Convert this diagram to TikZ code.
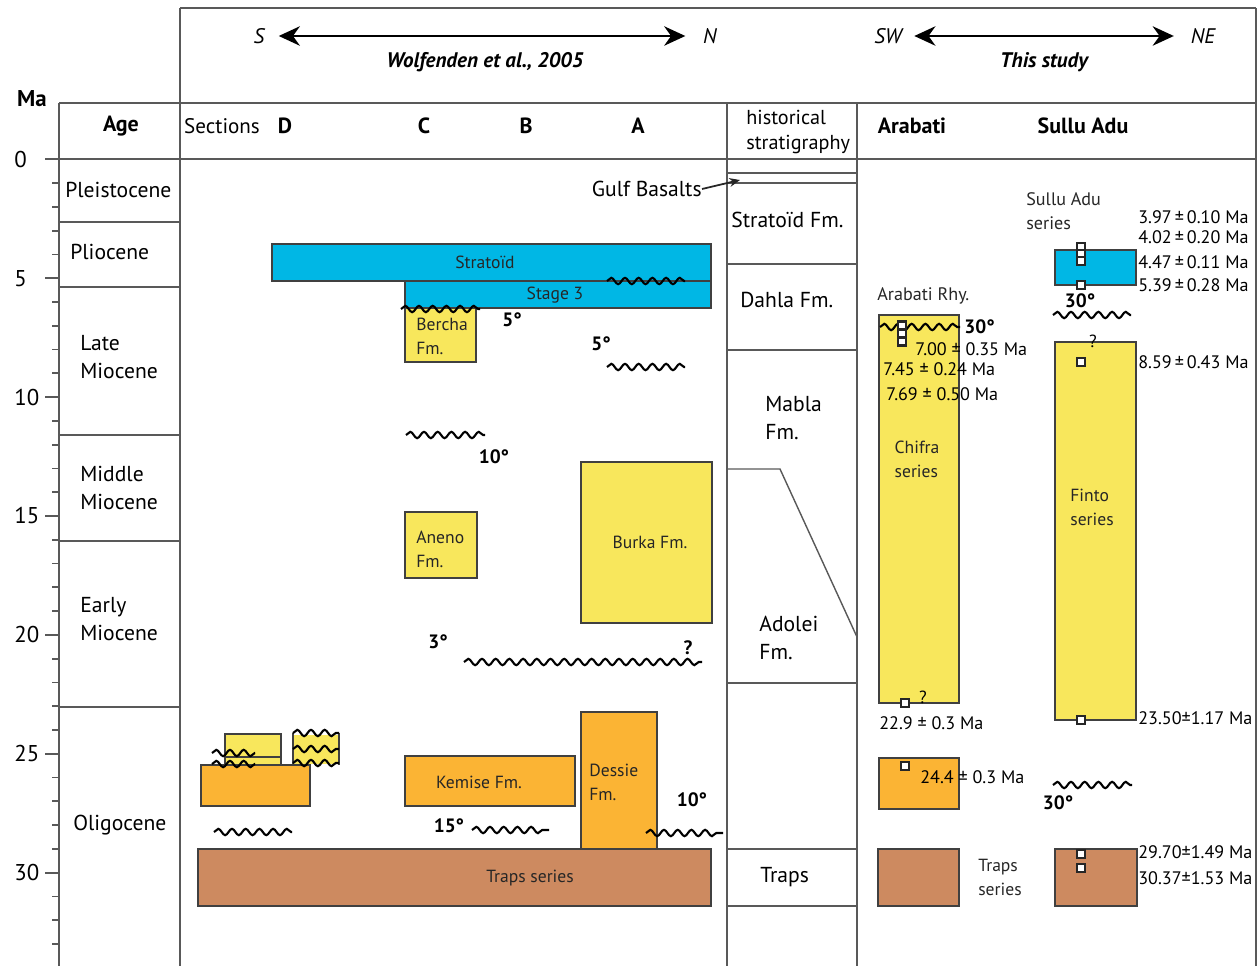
\documentclass[tikz,border=0pt]{standalone}
\usepackage{fontspec}
\setmainfont{PT Sans}
\usepackage{tikz}
\usetikzlibrary{positioning,fit,calc,arrows.meta,decorations.pathmorphing}
\definecolor{stratoidblue}{RGB}{0,183,229}
\definecolor{fmyellow}{RGB}{248,231,92}
\definecolor{fmorange}{RGB}{251,180,52}
\definecolor{trapsbrown}{RGB}{205,138,96}
\tikzstyle{chart} = [draw=black!65, line width=1pt]
\tikzstyle{layer} = [rectangle, draw=black!75, line width=0.8pt, inner sep=0pt]
\tikzstyle{layertext} = [inner sep=0pt, align=left, text=black!85, font=\fontsize{10}{13.6}\selectfont]
\tikzstyle{unconformity} = [draw=black, line width=1.2pt, decorate, decoration={snake, amplitude=1.8pt, segment length=7.8pt}]
\tikzstyle{dip} = [inner sep=0pt, font=\bfseries\fontsize{11}{12}\selectfont]
\tikzstyle{sample} = [rectangle, draw=black!85, fill=white, line width=1.4pt, minimum size=4.6pt, inner sep=0pt]
\tikzstyle{agedate} = [anchor=west, inner sep=0pt, font=\fontsize{10.3}{12}\selectfont]
\tikzstyle{epoch} = [anchor=west, inner sep=0pt, align=left, font=\fontsize{12.3}{16}\selectfont]
\tikzstyle{heading} = [inner sep=0pt, font=\bfseries\fontsize{12.5}{14}\selectfont]
\tikzstyle{compass} = [inner sep=0pt, font=\itshape\fontsize{12}{14}\selectfont]
\tikzstyle{source} = [inner sep=0pt, font=\bfseries\itshape\fontsize{12}{14}\selectfont]
\tikzstyle{transect} = [line width=1.6pt, {Stealth[length=12pt,width=11pt]}-{Stealth[length=12pt,width=11pt]}]

\begin{document}
\begin{tikzpicture}[x=0.02cm, y=-0.02cm]
        \useasboundingbox (0,0) rectangle (1260,966);
        % Frame ------------------------------------------------------------------------------------
        \draw[chart, line width=1.6pt] (180,8) -- (1256,8);
        \draw[chart] (180,8) -- (180,966);
        \draw[chart] (1256,8) -- (1256,966);
        \draw[chart] (59,103) -- (1256,103);
        \draw[chart] (45,159.3) -- (1256,159.3);
        \draw[chart] (59,103) -- (59,966);
        \draw[chart] (727,103) -- (727,966);
        \draw[chart] (857,103) -- (857,966);
        % Time axis --------------------------------------------------------------------------------
        \node[inner sep=0pt, font=\bfseries\fontsize{13}{14}\selectfont](ma_label) at (32,99){Ma};
        \foreach \m in {0,...,33}
            \draw[chart] (52,{159.3+23.78*\m}) -- (59,{159.3+23.78*\m});
        \foreach \m in {0,5,...,30} {
            \draw[chart] (45,{159.3+23.78*\m}) -- (59,{159.3+23.78*\m});
            \node[anchor=west, inner sep=0pt, font=\fontsize{13}{14}\selectfont](tick_\m) at (14,{159.3+23.78*\m}){\m};
        }
        % Epochs
        \foreach \b in {222.3,286.7,435,540.7,706.7}
            \draw[chart] (59,\b) -- (180,\b);
        \node[heading](age_head) at (121,126){Age};
        \node[epoch](pleistocene) at (65,190){Pleistocene};
        \node[epoch](pliocene) at (70,252){Pliocene};
        \node[epoch](late_miocene) at (80,357){Late\\Miocene};
        \node[epoch](middle_miocene) at (80,488){Middle\\Miocene};
        \node[epoch](early_miocene) at (80,619){Early\\Miocene};
        \node[epoch](oligocene) at (73,825){Oligocene};
        % Transects --------------------------------------------------------------------------------
        \node[compass](south) at (259,36){S};
        \node[compass](north) at (710,36){N};
        \draw[transect, shorten <=8pt, shorten >=10pt] (south.east) -- (north.west);
        \node[source](wolfenden) at (485,62){Wolfenden et al., 2005};
        \node[compass](southwest) at (888,36){SW};
        \node[compass](northeast) at (1203,36){NE};
        \draw[transect, shorten <=7pt, shorten >=9.5pt] (southwest.east) -- (northeast.west);
        \node[source](this_study) at (1044,62){This study};
        % Sections header
        \node[inner sep=0pt, font=\fontsize{12}{14}\selectfont](sections) at (222,126){Sections};
        \node[heading](sec_d) at (285,126){D};
        \node[heading](sec_c) at (424,126){C};
        \node[heading](sec_b) at (526,126){B};
        \node[heading](sec_a) at (638,126){A};
        \node[heading](arabati_head) at (912,126){Arabati};
        \node[heading](sullu_head) at (1083,126){Sullu Adu};
        % Historical stratigraphy ------------------------------------------------------------------
        \node[epoch, font=\fontsize{11.5}{14.5}\selectfont](historical) at (746,132){historical\\stratigraphy};
        \foreach \b in {173,183,264,350,683,849,906}
            \draw[chart] (727,\b) -- (857,\b);
        \draw[chart, line width=0.8pt] (727,469) -- (780,469) -- (857,637);
        \node[epoch](hist_stratoid) at (731,220){Stratoïd Fm.};
        \node[epoch](hist_dahla) at (740,300){Dahla Fm.};
        \node[epoch](hist_mabla) at (765,418){Mabla\\Fm.};
        \node[epoch](hist_adolei) at (759,638){Adolei\\Fm.};
        \node[epoch](hist_traps) at (760,877){Traps};
        \node[epoch, anchor=east](gulf) at (702,189){Gulf Basalts};
        \coordinate (gulf_tip) at (740,180);
        \draw[-{Stealth[length=6pt,width=5pt]}, line width=1pt, draw=black!85] (gulf.east) -- (gulf_tip);
        % Wolfenden sections -----------------------------------------------------------------------
        \node[layer, fill=stratoidblue, fit={(272,244) (711,281)}](stratoid){};
        \node[layer, fill=stratoidblue, fit={(405,281) (711,308)}](stage_three){};
        \node[layer, fill=fmyellow, fit={(405,308) (476,362)}](bercha){};
        \node[layer, fill=fmyellow, fit={(405,512) (477,578)}](aneno){};
        \node[layer, fill=fmyellow, fit={(581,462) (712,623)}](burka){};
        \node[layer, fill=fmyellow, fit={(225,734) (281,765)}](d_upper){};
        \draw[draw=black!75, line width=0.8pt] (225,757) -- (281,757);
        \node[layer, fill=fmorange, fit={(201,765) (310,806)}](d_lower){};
        \fill[fmyellow] (293,735) rectangle (339,764);
        \draw[draw=black!75, line width=0.8pt] (293,733) -- (293,765) (339,733) -- (339,765);
        \node[layer, fill=fmorange, fit={(405,756) (575,806)}](kemise){};
        \node[layer, fill=fmorange, fit={(581,712) (657,849)}](dessie){};
        \node[layer, fill=trapsbrown, fit={(198,849) (711,906)}](traps_wolf){};
        % Wolfenden labels
        \node[layertext](stratoid_lbl) at (485,262){Stratoïd};
        \node[layertext](stage_three_lbl) at (555,295){Stage 3};
        \node[layertext, anchor=west](bercha_lbl) at (416,336){Bercha\\Fm.};
        \node[layertext, anchor=west](aneno_lbl) at (416,549){Aneno\\Fm.};
        \node[layertext](burka_lbl) at (650,542){Burka Fm.};
        \node[layertext](kemise_lbl) at (479,782){Kemise Fm.};
        \node[layertext, anchor=west](dessie_lbl) at (589,782){Dessie\\Fm.};
        \node[layertext](traps_wolf_lbl) at (530,878){Traps series};
        % Unconformities
        \draw[unconformity] (607,281) -- (685,281);
        \draw[unconformity] (401,309) -- (480,309);
        \draw[unconformity] (607,367) -- (685,367);
        \draw[unconformity] (406,435) -- (485,435);
        \draw[unconformity] (464,662) -- (702,662);
        \draw[unconformity] (212,753) -- (255,753);
        \draw[unconformity] (212,764) -- (255,764);
        \draw[unconformity] (293,733) -- (339,733);
        \draw[unconformity] (293,749) -- (339,749);
        \draw[unconformity] (293,763) -- (339,763);
        \draw[unconformity] (472,830) -- (549,830);
        \draw[unconformity] (646,833) -- (723,833);
        \draw[unconformity] (214,832) -- (292,832);
        \node[dip](dip_bercha) at (512,320){5°};
        \node[dip](dip_a_top) at (601,344){5°};
        \node[dip](dip_c_mid) at (494,457){10°};
        \node[dip](dip_c_low) at (438,642){3°};
        \node[dip](query_a) at (688,648){?};
        \node[dip](dip_kemise) at (449,826){15°};
        \node[dip](dip_dessie) at (692,800){10°};
        % Arabati ----------------------------------------------------------------------------------
        \node[layertext, anchor=west, font=\fontsize{10.3}{12}\selectfont](arabati_rhy) at (877,296){Arabati Rhy.};
        \node[layer, fill=fmyellow, fit={(879,315) (959,703)}](chifra){};
        \node[layertext](chifra_lbl) at (917,459){Chifra\\series};
        \node[layer, fill=fmorange, fit={(879,758) (959,809)}](arabati_orange){};
        \node[layer, fill=trapsbrown, fit={(878,849) (959,906)}](arabati_traps){};
        \node[layertext](arabati_traps_lbl) at (1000,877){Traps\\series};
        \draw[unconformity] (880,327) -- (960,327);
        \node[dip, anchor=west](dip_arabati) at (964,327){30°};
        \node[sample](s_ar1) at (902,325.5){};
        \node[sample](s_ar2) at (902,333.5){};
        \node[sample](s_ar3) at (902,341.5){};
        \node[agedate](d_ar1) at (915,349){7.00 ± 0.35 Ma};
        \node[agedate](d_ar2) at (883,369){7.45 ± 0.24 Ma};
        \node[agedate](d_ar3) at (886,394){7.69 ± 0.50 Ma};
        \node[sample](s_ar4) at (905,703){};
        \node[inner sep=0pt, font=\fontsize{10}{12}\selectfont](query_ar) at (923,697){?};
        \node[agedate](d_ar4) at (879,723){22.9 ± 0.3 Ma};
        \node[sample](s_ar5) at (905,766){};
        \node[agedate](d_ar5) at (920,777){24.4 ± 0.3 Ma};
        % Sullu Adu --------------------------------------------------------------------------------
        \node[layertext, anchor=west, font=\fontsize{10.3}{13.6}\selectfont](sullu_series) at (1026,211){Sullu Adu\\series};
        \node[layer, fill=stratoidblue, fit={(1055,250) (1136,285)}](sullu_blue){};
        \node[layer, fill=fmyellow, fit={(1055,342) (1136,720)}](finto){};
        \node[layertext](finto_lbl) at (1092,507){Finto\\series};
        \node[layer, fill=trapsbrown, fit={(1055,849) (1137,906)}](sullu_traps){};
        \node[sample](s_su1) at (1081,247){};
        \node[sample](s_su2) at (1081,254){};
        \node[sample](s_su3) at (1081,261){};
        \node[sample](s_su4) at (1081,285){};
        \node[sample](s_su5) at (1081,362){};
        \node[sample](s_su6) at (1081,720){};
        \node[sample](s_su7) at (1081,854){};
        \node[sample](s_su8) at (1081,868){};
        \node[dip](dip_sullu_top) at (1080,301){30°};
        \draw[unconformity] (1053,315) -- (1131,315);
        \draw[unconformity] (1053,785) -- (1132,785);
        \node[dip](dip_sullu_low) at (1058,803){30°};
        \node[inner sep=0pt, font=\fontsize{10}{12}\selectfont](query_su) at (1093,341){?};
        \node[agedate](d_su1) at (1138,217){3.97\,±\,0.10 Ma};
        \node[agedate](d_su2) at (1138,237){4.02\,±\,0.20 Ma};
        \node[agedate](d_su3) at (1138,262){4.47\,±\,0.11 Ma};
        \node[agedate](d_su4) at (1138,285){5.39\,±\,0.28 Ma};
        \node[agedate](d_su5) at (1138,362){8.59\,±\,0.43 Ma};
        \node[agedate](d_su6) at (1138,718){23.50±1.17 Ma};
        \node[agedate](d_su7) at (1138,852){29.70±1.49 Ma};
        \node[agedate](d_su8) at (1138,878){30.37±1.53 Ma};
    \end{tikzpicture}
\end{document}
